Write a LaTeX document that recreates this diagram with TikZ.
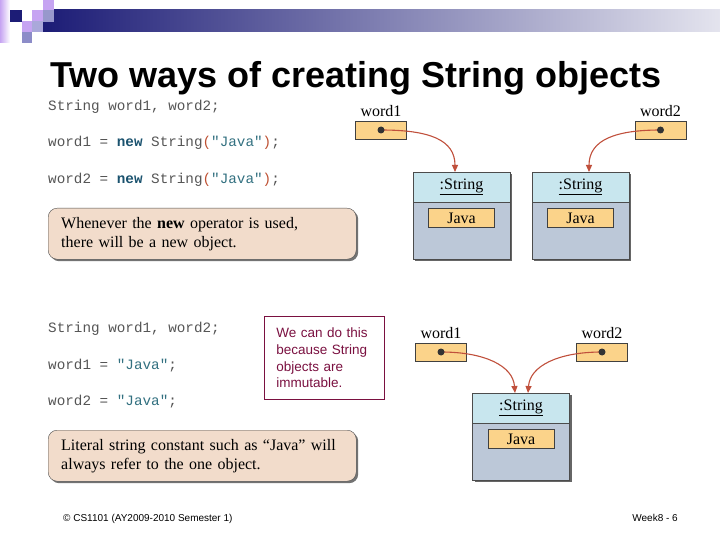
\documentclass[tikz,border=0pt]{standalone}
\usepackage{fontspec}
\setmainfont{Liberation Serif}
\setsansfont{Liberation Sans}
\setmonofont{Liberation Mono}
\usetikzlibrary{positioning,shadows,arrows.meta}

\definecolor{barnavy}{RGB}{28,28,118}
\definecolor{barlight}{RGB}{228,228,238}
\definecolor{sqlav}{RGB}{198,164,242}
\definecolor{sqgrey}{RGB}{152,152,204}
\definecolor{sqpale}{RGB}{170,168,218}
\definecolor{sqblue}{RGB}{140,140,200}
\definecolor{codegrey}{RGB}{85,85,85}
\definecolor{kwteal}{RGB}{26,82,110}
\definecolor{strteal}{RGB}{50,112,128}
\definecolor{parenred}{RGB}{190,80,50}
\definecolor{varorange}{RGB}{251,211,138}
\definecolor{headcyan}{RGB}{200,230,238}
\definecolor{bodyblue}{RGB}{188,200,216}
\definecolor{arrowred}{RGB}{192,80,60}
\definecolor{calloutpeach}{RGB}{242,220,203}
\definecolor{notepurple}{RGB}{122,16,64}

\newcommand\kw[1]{\textcolor{kwteal}{\textbf{#1}}}
\newcommand\jstr[1]{\textcolor{strteal}{#1}}
\newcommand\codepar[1]{\textcolor{parenred}{#1}}

\begin{document}
\begin{tikzpicture}[x=1pt, y=-1pt]
    % Node styles
    \tikzset{
        varbox/.style={draw=black!75, fill=varorange, minimum width=51pt, minimum height=18pt, inner sep=0pt},
        ptrdot/.style={circle, fill=black!80, inner sep=0pt, minimum size=7pt},
        varlabel/.style={font=\fontsize{16}{18}\selectfont, label distance=1pt},
        refarrow/.style={draw=arrowred, line width=1.1pt, -{Triangle[length=7pt,width=6pt]}},
        objbody/.style={draw=black!70, fill=bodyblue, minimum width=97pt, minimum height=87pt, inner sep=0pt,
            drop shadow={shadow xshift=2pt, shadow yshift=-2pt, fill=black!60, opacity=1}},
        objhead/.style={draw=black!70, fill=headcyan, minimum width=97pt, minimum height=30pt, inner sep=0pt,
            anchor=north, font=\fontsize{16}{18}\selectfont},
        valbox/.style={draw=black!75, fill=varorange, minimum width=66pt, minimum height=19pt, inner sep=0pt,
            font=\fontsize{16}{18}\selectfont},
        codeline/.style={anchor=west, inner sep=0pt, text=codegrey, font=\ttfamily\fontsize{14.3}{16}\selectfont},
        callout/.style={draw=black!70, fill=calloutpeach, rounded corners=9pt, anchor=north west,
            minimum width=308pt, minimum height=51pt, text width=282pt, inner xsep=13pt, align=left,
            font=\fontsize{16}{19}\selectfont,
            drop shadow={shadow xshift=2pt, shadow yshift=-2pt, fill=black!55, opacity=1}},
        notebox/.style={draw=notepurple, line width=0.8pt, anchor=north west, minimum width=120pt,
            minimum height=83pt, text width=96pt, inner xsep=12pt, align=left, text=notepurple,
            font=\sffamily\fontsize{13.5}{16.7}\selectfont},
        footer/.style={inner sep=0pt, font=\sffamily\fontsize{10}{12}\selectfont}
    }

    \useasboundingbox (0,0) rectangle (720,540);

    % Banner with squares
    \shade[left color=barnavy, right color=barlight] (43,10) rectangle (720,32);
    \shade[left color=sqlav, right color=white] (0,0) rectangle (10,43);
    \fill[barnavy] (10,10) rectangle (22,22);
    \fill[sqlav] (32,10) rectangle (43,22);
    \fill[sqlav] (43,0) rectangle (54,10);
    \fill[sqgrey] (43,10) rectangle (54,22);
    \fill[sqlav] (22,21) rectangle (32,32);
    \fill[sqpale] (32,21) rectangle (43,32);
    \fill[sqblue] (22,32) rectangle (32,43);

    % Title
    \node[anchor=base west, inner sep=0pt, font=\sffamily\bfseries\fontsize{36}{40}\selectfont] (title) at (50,88)
        {Two ways of creating String objects};

    % Part 1: code with new
    \node[codeline] (decl1) at (48,107) {String word1, word2;};
    \node[codeline] (asgn1) at (48,143) {word1 = \kw{new} String\codepar{(}\jstr{"Java"}\codepar{)};};
    \node[codeline] (asgn2) at (48,180) {word2 = \kw{new} String\codepar{(}\jstr{"Java"}\codepar{)};};
    \node[callout] (tip1) at (48,208) {Whenever the \textbf{new} operator is used,\\there will be a new object.};

    % Part 1: variables and two String objects
    \node[varbox, label={[varlabel]above:word1}] (w1a) at (381,130) {};
    \node[varbox, label={[varlabel]above:word2}] (w2a) at (660.5,130) {};
    \node[objbody] (s1) at (461.5,215.5) {};
    \node[objhead] (h1) at (s1.north) {\underline{:String}};
    \node[valbox, below=6pt of h1] (v1) {Java};
    \node[objbody] (s2) at (580.5,215.5) {};
    \node[objhead] (h2) at (s2.north) {\underline{:String}};
    \node[valbox, below=6pt of h2] (v2) {Java};

    \coordinate (in1) at (455,172);
    \coordinate (in2) at (589,172);
    \draw[refarrow] (w1a.center) .. controls (430,130) and (455,140) .. (in1);
    \draw[refarrow] (w2a.center) .. controls (615,130) and (589,140) .. (in2);
    \node[ptrdot] (d1a) at (w1a) {};
    \node[ptrdot] (d2a) at (w2a) {};

    % Part 2: code with literals
    \node[codeline] (decl2) at (48,329) {String word1, word2;};
    \node[codeline] (asgn3) at (48,366) {word1 = \jstr{"Java"};};
    \node[codeline] (asgn4) at (48,402) {word2 = \jstr{"Java"};};
    \node[notebox] (note) at (264,316) {We can do this\\because String\\objects are\\immutable.};
    \node[callout] (tip2) at (48,430) {Literal string constant such as “Java” will\\always refer to the one object.};

    % Part 2: variables and one shared String object
    \node[varbox, label={[varlabel]above:word1}] (w1b) at (441,352) {};
    \node[varbox, label={[varlabel]above:word2}] (w2b) at (602,352) {};
    \node[objbody] (s3) at (521,436.5) {};
    \node[objhead] (h3) at (s3.north) {\underline{:String}};
    \node[valbox, below=6pt of h3] (v3) {Java};

    \coordinate (in3) at (515,393);
    \coordinate (in4) at (528,393);
    \draw[refarrow] (w1b.center) .. controls (485,352) and (513,366) .. (in3);
    \draw[refarrow] (w2b.center) .. controls (558,352) and (530,366) .. (in4);
    \node[ptrdot] (d1b) at (w1b) {};
    \node[ptrdot] (d2b) at (w2b) {};

    % Footer
    \node[footer, anchor=base west] (course) at (63,521) {© CS1101 (AY2009-2010 Semester 1)};
    \node[footer, anchor=base east] (page) at (678,521) {Week8 - 6};
\end{tikzpicture}
\end{document}
